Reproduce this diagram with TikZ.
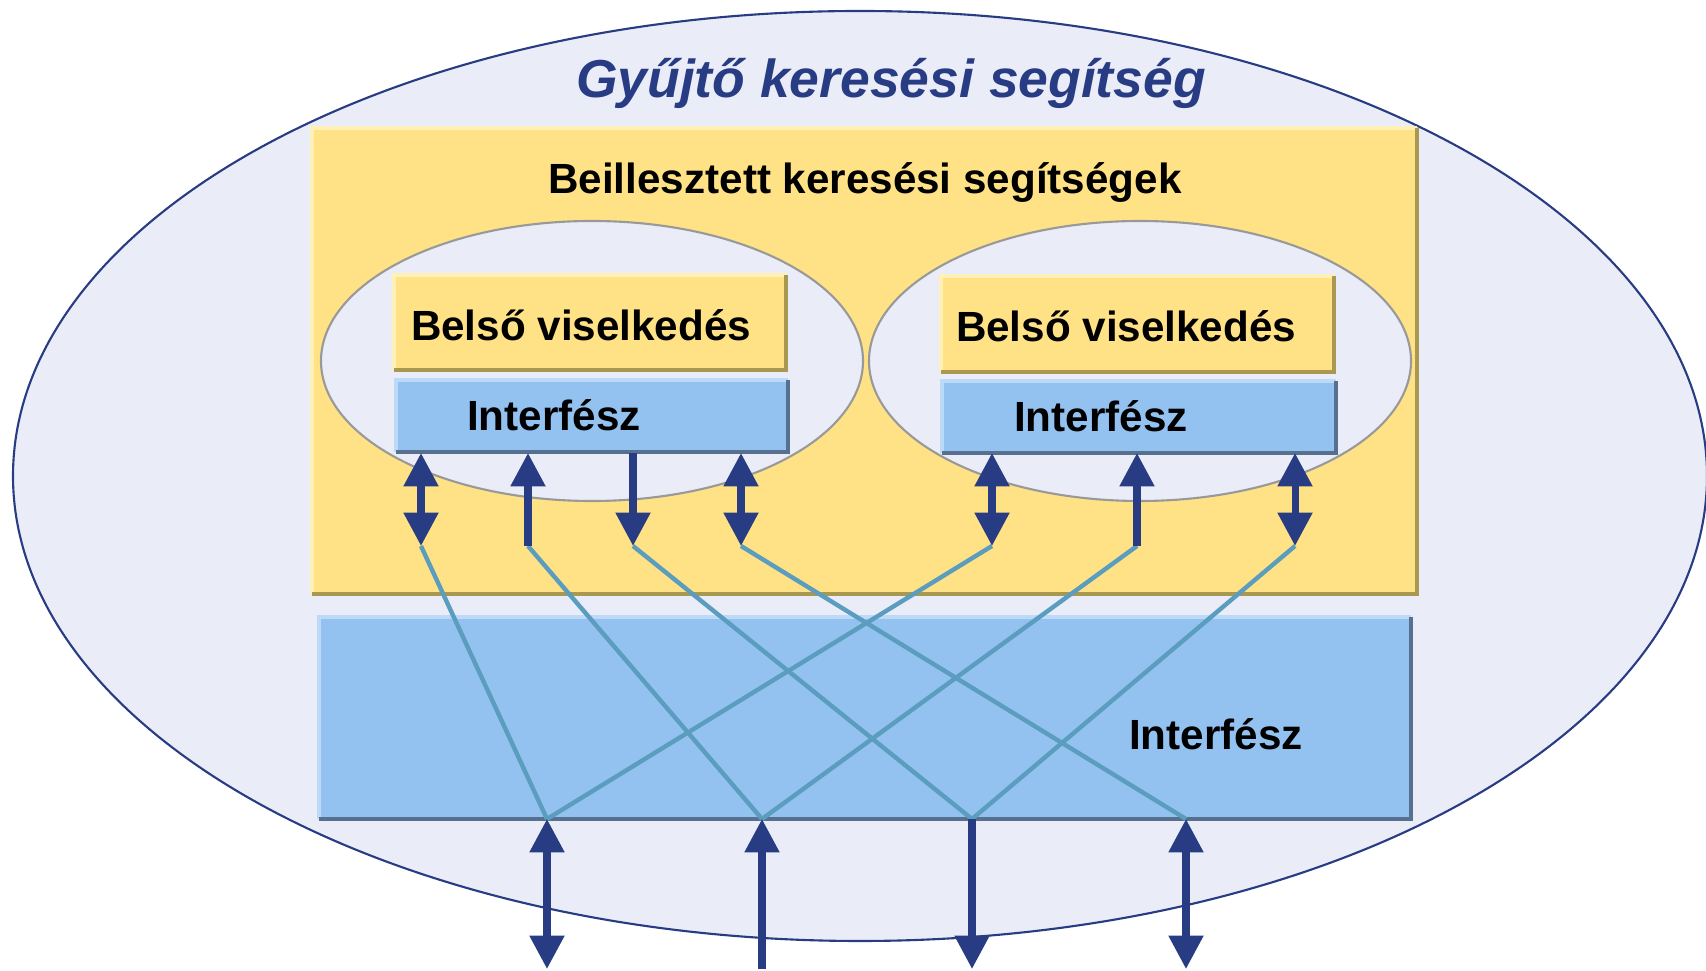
\documentclass[tikz,border=0pt]{standalone}
\usepackage{fontspec}
\setmainfont{Liberation Sans}
\usetikzlibrary{arrows.meta}

\definecolor{outerfill}{HTML}{EAEDF8}
\definecolor{navy}{HTML}{283C84}
\definecolor{yel}{HTML}{FFE285}
\definecolor{yellight}{HTML}{FFF0B8}
\definecolor{yeldark}{HTML}{A89850}
\definecolor{blu}{HTML}{93C2F0}
\definecolor{blulight}{HTML}{BCDAF8}
\definecolor{bludark}{HTML}{587090}
\definecolor{wire}{HTML}{5B9DBF}

\begin{document}
\begin{tikzpicture}[x=0.01cm,y=-0.01cm,line width=0.6pt,
    lbl/.style={font=\bfseries\fontsize{12}{14}\selectfont,inner sep=0pt},
    headline/.style={font=\bfseries\itshape\fontsize{15.2}{18}\selectfont,text=navy,inner sep=0pt},
    bus/.style={draw=navy,line width=2pt},
    tip/.tip={Triangle[width=9.5pt,length=9.5pt]},
    both/.style={bus,tip-tip},
    one/.style={bus,-tip},
    link/.style={draw=wire,line width=1.25pt}]
    \useasboundingbox (0,0) rectangle (1706,971);
    \fill[white] (0,0) rectangle (1706,971);

    % outer shell
    \draw[draw=navy,fill=outerfill] (860,476) ellipse [x radius=847,y radius=465];

    % boxes: fill, light top/left edge, dark bottom/right edge
    \foreach \xa/\ya/\xb/\yb/\c in {312/128/1417/594/yel} {
        \fill[\c] (\xa,\ya) rectangle (\xb,\yb);
        \draw[\c light,line width=1.2pt] (\xa,\yb) -- (\xa,\ya) -- (\xb,\ya);
        \draw[\c dark,line width=1.2pt] (\xb,\ya) -- (\xb,\yb) -- (\xa,\yb);
    }
    \foreach \cx in {592,1140} {
        \draw[draw=black!40,fill=outerfill] (\cx,361) ellipse [x radius=271,y radius=140];
    }
    \foreach \xa/\ya/\xb/\yb/\c in {394/275/786/370/yel,941/276/1334/372/yel,
                                    396/380/788/452/blu,942/381/1336/453/blu,
                                    319/617/1411/819/blu} {
        \fill[\c] (\xa,\ya) rectangle (\xb,\yb);
        \draw[\c light,line width=1.2pt] (\xa,\yb) -- (\xa,\ya) -- (\xb,\ya);
        \draw[\c dark,line width=1.2pt] (\xb,\ya) -- (\xb,\yb) -- (\xa,\yb);
    }

    % end points
    \foreach \n/\x in {a/421,b/528,c/633,d/741,e/992,f/1137,g/1295} {
        \coordinate (top-\n) at (\x,453);
        \coordinate (bot-\n) at (\x,546);
    }
    \foreach \n/\x in {1/547,2/762,3/972,4/1186} {
        \coordinate (hub-\n) at (\x,819);
        \coordinate (out-\n) at (\x,969);
    }

    % crossing links
    \foreach \s/\t in {a/1,b/2,c/3,d/4,e/1,f/2,g/3} {
        \draw[link] (bot-\s) -- (hub-\t);
    }

    % arrows
    \draw[both] (top-a) -- (bot-a);
    \draw[one] (bot-b) -- (top-b);
    \draw[one] (top-c) -- (bot-c);
    \draw[both] (top-d) -- (bot-d);
    \draw[both] (top-e) -- (bot-e);
    \draw[one] (bot-f) -- (top-f);
    \draw[both] (top-g) -- (bot-g);
    \draw[both] (hub-1) -- (out-1);
    \draw[one] (out-2) -- (hub-2);
    \draw[one] (hub-3) -- (out-3);
    \draw[both] (hub-4) -- (out-4);

    % texts
    \node[headline,anchor=base] (title) at (891,98) {Gyűjtő keresési segítség};
    \node[lbl,anchor=base] (embed) at (865,194) {Beillesztett keresési segítségek};
    \node[lbl,anchor=base west] (inner1) at (410,341) {Belső viselkedés};
    \node[lbl,anchor=base west] (inner2) at (955,342) {Belső viselkedés};
    \node[lbl,anchor=base west] (port1) at (466,431) {Interfész};
    \node[lbl,anchor=base west] (port2) at (1013,432) {Interfész};
    \node[lbl,anchor=base west] (port) at (1128,750) {Interfész};
\end{tikzpicture}
\end{document}
